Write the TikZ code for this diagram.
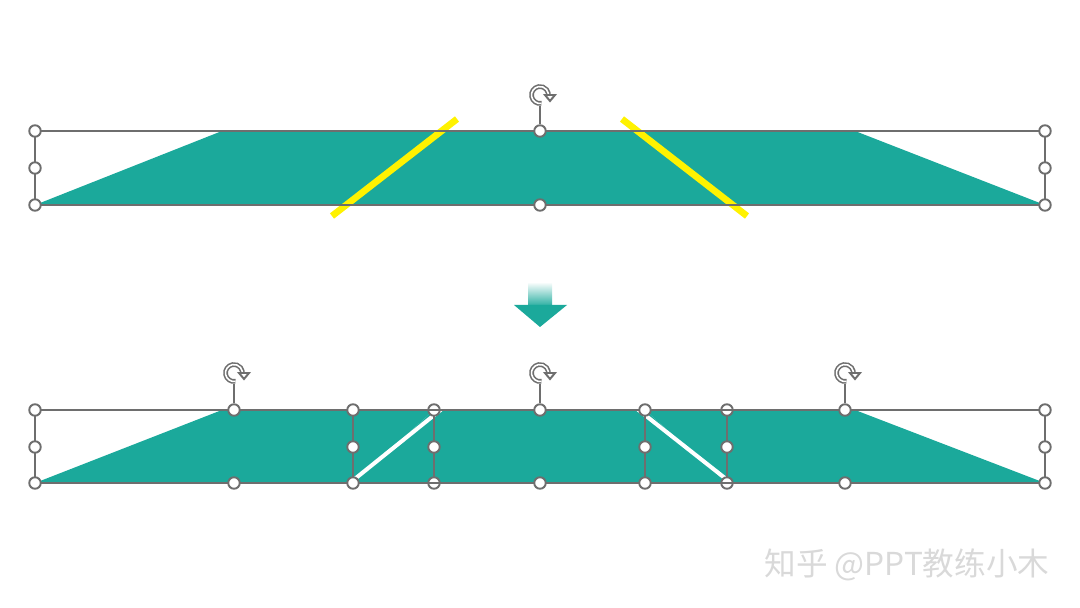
\documentclass[tikz,border=0pt]{standalone}
\usepackage{fontspec}
\newfontfamily\cjkfont{Noto Sans CJK SC}
\usetikzlibrary{positioning}
\definecolor{tealfill}{HTML}{1BA99B}
\definecolor{framegray}{HTML}{6E6E6E}
\tikzset{
  rotmark/.pic={
    \draw[framegray,line width=2.7pt] (80:8.5) arc (80:375:8.5);
    \draw[white,line width=0.9pt] (80:8.5) arc (80:375:8.5);
    \filldraw[fill=white,draw=framegray,line width=1.1pt] (5,0) -- (15,0) -- (10,6) -- cycle;
  }
}
\begin{document}
\begin{tikzpicture}[x=0.02cm,y=-0.02cm,
  handle/.style={circle,draw=framegray,fill=white,line width=1.1pt,inner sep=0pt,minimum size=0.23cm},
  box/.style={draw=framegray,line width=0.7pt},
  cut/.style={line width=2.3pt}]
\useasboundingbox (0,0) rectangle (1080,608);

% before: one trapezoid
\fill[tealfill] (35,205) -- (222,131) -- (855,131) -- (1045,205) -- cycle;
\draw[yellow,cut,line width=3.8pt] (332,216) -- (457,119);
\draw[yellow,cut,line width=3.8pt] (622,119) -- (747,216);
\coordinate (A tl) at (35,131);
\coordinate (A br) at (1045,205);
\draw[box] (A tl) rectangle (A br);
\pic at (540,95) {rotmark};
\coordinate (A rot) at (540,106);
\foreach \x/\y [count=\n] in {35/131,35/168,35/205,540/131,540/205,1045/131,1045/168,1045/205}
  \node[handle] (A\n) at (\x,\y) {};
\draw[box] (A rot) -- (A4);

% arrow
\shade[top color=white,bottom color=tealfill!90] (528,282) rectangle (552,305);
\fill[tealfill] (514,305) -- (567,305) -- (540,327) -- cycle;

% after: three pieces
\fill[tealfill] (35,483) -- (222,410) -- (434,410) -- (353,483) -- cycle;
\fill[tealfill] (353,483) -- (434,410) -- (645,410) -- (727,483) -- cycle;
\fill[tealfill] (645,410) -- (855,410) -- (1045,483) -- (727,483) -- cycle;
\draw[white,cut] (346,486) -- (443,408);
\draw[white,cut] (636,408) -- (735,486);

\foreach \a/\b/\r [count=\n] in {35/434/234,353/727/540,645/1045/845} {
  \coordinate (B\n tl) at (\a,410);
  \coordinate (B\n br) at (\b,483);
  \coordinate (B\n rot) at (\r,384);
  \draw[box] (B\n tl) rectangle (B\n br);
  \pic at (\r,373) {rotmark};
  \node[handle] (B\n t) at (\r,410) {};
  \node[handle] (B\n b) at (\r,483) {};
  \draw[box] (B\n rot) -- (B\n t);
  \foreach \y [count=\k] in {410,447,483} {
    \node[handle] (B\n l\k) at (\a,\y) {};
    \node[handle] (B\n r\k) at (\b,\y) {};
  }
}

% watermark
\node[text=gray!30,font=\cjkfont\fontsize{18}{18}\selectfont] (mark) at (907,565) {知乎 @PPT教练小木};
\end{tikzpicture}
\end{document}
